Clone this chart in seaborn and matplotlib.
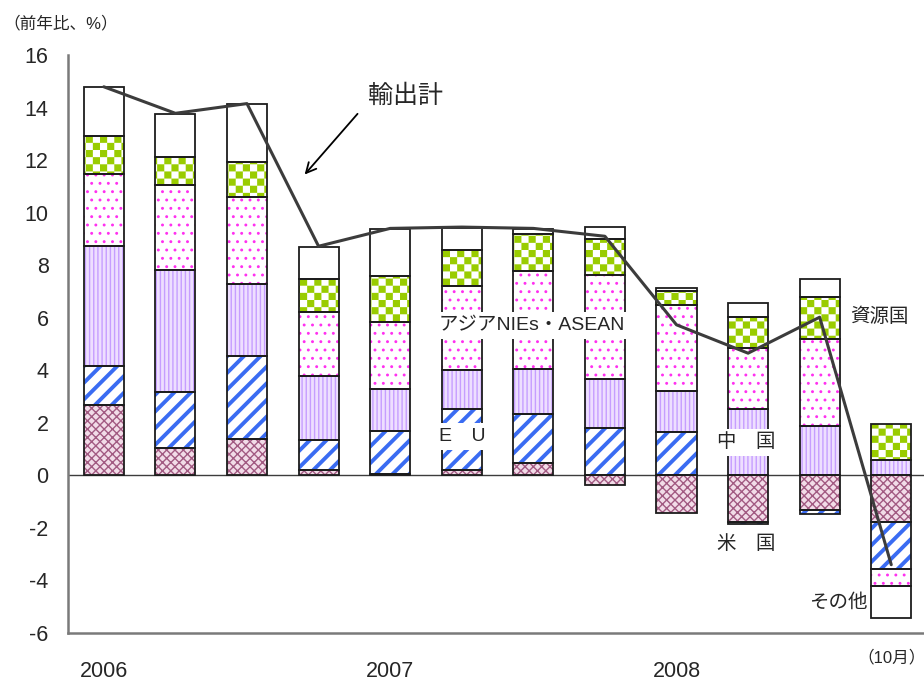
import numpy as np
import pandas as pd
import matplotlib
matplotlib.use("Agg")
import matplotlib.pyplot as plt
import matplotlib.hatch as mhatch
from matplotlib.path import Path
import seaborn as sns

# ---- data (前年比寄与度, %) ----
periods = ["2006Q1", "2006Q2", "2006Q3", "2006Q4",
           "2007Q1", "2007Q2", "2007Q3", "2007Q4",
           "2008Q1", "2008Q2", "2008Q3", "2008Oct"]
year_labels = ["2006", "2007", "2008"]
last_label = "（10月）"

us       = [2.69, 1.04, 1.38, 0.22, 0.05, 0.22, 0.47, -0.38, -1.43, -1.77, -1.33, -1.77]
eu       = [1.48, 2.12, 3.15, 1.14, 1.62, 2.32, 1.86, 1.80, 1.65, -0.08, -0.13, -1.79]
china    = [4.56, 4.64, 2.76, 2.41, 1.63, 1.48, 1.73, 1.88, 1.57, 2.54, 1.89, 0.57]
asia     = [2.73, 3.25, 3.32, 2.44, 2.52, 3.19, 3.70, 3.95, 3.27, 2.30, 3.30, -0.66]
resource = [1.46, 1.05, 1.33, 1.27, 1.75, 1.37, 1.42, 1.37, 0.54, 1.17, 1.58, 1.40]
other    = [1.87, 1.64, 2.21, 1.23, 1.81, 0.83, 0.20, 0.47, 0.12, 0.54, 0.71, -1.20]
total    = [14.79, 13.78, 14.15, 8.72, 9.40, 9.45, 9.40, 9.10, 5.73, 4.65, 6.02, -3.40]


# ---- checkerboard hatch (takes the place of the '*' pattern) ----
class CheckerHatch(mhatch.HatchPatternBase):
    def __init__(self, hatch, density):
        self.cells = hatch.count("*") * 7
        self.cells -= self.cells % 2
        self.num_vertices = (self.cells * self.cells // 2) * 5

    def set_vertices_and_codes(self, vertices, codes):
        n = self.cells
        s = 1.0 / n
        k = 0
        for i in range(n):
            for j in range(n):
                if (i + j) % 2:
                    continue
                x0, y0 = i * s, j * s
                x1, y1 = (i + 1) * s, (j + 1) * s
                vertices[k:k + 5] = [(x0, y0), (x1, y0), (x1, y1), (x0, y1), (x0, y0)]
                codes[k:k + 5] = [Path.MOVETO, Path.LINETO, Path.LINETO,
                                  Path.LINETO, Path.CLOSEPOLY]
                k += 5


mhatch._hatch_types = [CheckerHatch if t.__name__ == "Stars" else t
                       for t in mhatch._hatch_types]

sns.set_style("white")
plt.rcParams["font.family"] = ["Liberation Sans", "Noto Sans CJK JP", "DejaVu Sans"]

# segment name, values, face colour, hatch colour, hatch, hatch line width
segments = [
    ("米国", us, "#F2DCE8", "#A25A82", "xxxx", 1.0),
    ("EU", eu, "white", "#3A6CF2", "//", 2.8),
    ("中国", china, "#EEDFFF", "#C69EFF", "||||", 1.0),
    ("アジアNIEs・ASEAN", asia, "white", "#FF30F0", "..", 0.9),
    ("資源国", resource, "white", "#99CC00", "**", 0.0),
    ("その他", other, "white", "white", None, 1.0),
]

fig = plt.figure(figsize=(9.24, 6.83), dpi=100)
ax = fig.add_axes([0.0736, 0.0732, 0.9297, 0.8463])

bar_width = 0.56
pos_base = np.zeros(len(periods))
neg_base = np.zeros(len(periods))

for name, vals, face, hcol, hatch, hlw in segments:
    v = np.asarray(vals, dtype=float)
    bottom = np.where(v >= 0, pos_base, neg_base)
    df = pd.DataFrame({"period": periods, "value": v})
    n_before = len(ax.patches)
    with plt.rc_context({"hatch.linewidth": hlw}):
        sns.barplot(data=df, x="period", y="value", order=periods, ax=ax,
                    width=bar_width, saturation=1, errorbar=None,
                    color=face, edgecolor=hcol, linewidth=0, hatch=hatch,
                    bottom=bottom, zorder=2)
    for p in ax.patches[n_before:]:
        if hasattr(p, "set_hatch_linewidth"):
            p.set_hatch_linewidth(hlw)
    # outlines
    sns.barplot(data=df, x="period", y="value", order=periods, ax=ax,
                width=bar_width, saturation=1, errorbar=None,
                color="black", facecolor="none", edgecolor="#1c1c1c",
                linewidth=1.3, bottom=bottom, zorder=3)
    pos_base = pos_base + np.where(v >= 0, v, 0)
    neg_base = neg_base + np.where(v < 0, v, 0)

# total exports line
x_pos = np.arange(len(periods))
sns.lineplot(x=x_pos, y=total, ax=ax, color="#3c3c3c", linewidth=2.2,
             sort=False, zorder=4)

ax.axhline(0, color="#3c3c3c", linewidth=1.0, zorder=1.5)

# axes
ax.set_xlim(-0.5, len(periods) - 0.5)
ax.set_ylim(-6, 16)
ax.set_yticks(np.arange(-6, 17, 2))
ax.set_yticklabels([f"{t:d}" for t in range(-6, 17, 2)], fontsize=15.5)
ax.set_xticks(np.arange(0.5, len(periods) - 1, 1))
ax.set_xticklabels([])
year_pos = [i for i, p in enumerate(periods) if p.endswith("Q1")]
ax.set_xticks(year_pos, minor=True)
ax.set_xticklabels(year_labels, minor=True, fontsize=15.5)
ax.tick_params(axis="x", which="major", direction="in", length=7,
               width=1.0, color="#303030")
ax.tick_params(axis="x", which="minor", length=0, pad=20)
ax.tick_params(axis="y", direction="in", length=6, width=1.0,
               color="#303030", pad=14)
ax.set_xlabel("")
ax.set_ylabel("")
for side in ["top", "right"]:
    ax.spines[side].set_visible(False)
for side in ["left", "bottom"]:
    ax.spines[side].set_color("#7a7a7a")
    ax.spines[side].set_linewidth(1.8)
ax.grid(False)

# annotations
ax.text(len(periods) - 1, -6.95, last_label, ha="center", va="center",
        fontsize=12)
fig.text(0.004, 0.965, "（前年比、%）", ha="left", va="center", fontsize=12)

ax.text(4.22, 14.45, "輸出計", ha="center", va="center", fontsize=18)
ax.annotate("", xy=(2.78, 11.37), xytext=(3.57, 13.84),
            arrowprops=dict(arrowstyle="->", color="black", lw=1.3,
                            mutation_scale=18))

box = dict(boxstyle="square,pad=0.25", facecolor="white", edgecolor="none")
ax.text(5.98, 5.70, "アジアNIEs・ASEAN", ha="center", va="center",
        fontsize=14, bbox=box, zorder=6)
ax.text(5.01, 1.48, "E　U", ha="center", va="center", fontsize=14,
        bbox=box, zorder=6)
ax.text(8.98, 1.25, "中　国", ha="center", va="center", fontsize=14,
        bbox=box, zorder=6)
ax.text(8.98, -2.62, "米　国", ha="center", va="center", fontsize=14,
        zorder=6)
ax.text(10.42, 6.05, "資源国", ha="left", va="center", fontsize=14, zorder=6)
ax.text(10.67, -4.87, "その他", ha="right", va="center", fontsize=14, zorder=6)

fig.savefig("out.png", dpi=100)
